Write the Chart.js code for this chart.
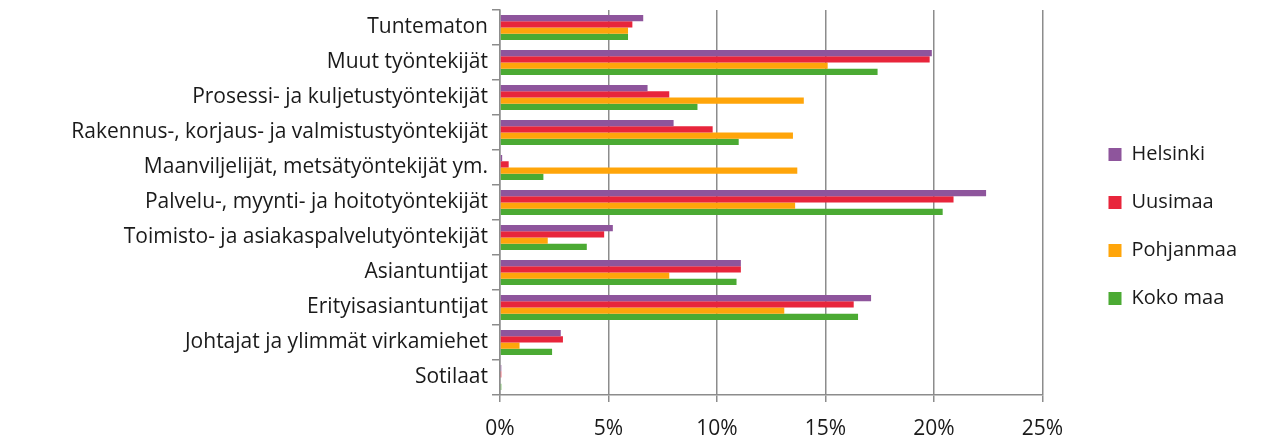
<!DOCTYPE html>
<html>
<head>
<meta charset="utf-8">
<script src="https://cdn.jsdelivr.net/npm/chart.js@4"></script>
<style>
  html, body { margin: 0; padding: 0; background: #fff; }
  #wrap { width: 1265px; height: 443px; }
</style>
</head>
<body>
<div id="wrap"><canvas id="myChart"></canvas></div>
<script>
var categories = ["Tuntematon", "Muut työntekijät", "Prosessi- ja kuljetustyöntekijät",
    "Rakennus-, korjaus- ja valmistustyöntekijät", "Maanviljelijät, metsätyöntekijät ym.",
    "Palvelu-, myynti- ja hoitotyöntekijät", "Toimisto- ja asiakaspalvelutyöntekijät",
    "Asiantuntijat", "Erityisasiantuntijat", "Johtajat ja ylimmät virkamiehet", "Sotilaat"];

var helsinki  = [6.6, 19.9, 6.8, 8.0, 0.1, 22.4, 5.2, 11.1, 17.1, 2.8, 0.06];
var uusimaa   = [6.1, 19.8, 7.8, 9.8, 0.4, 20.9, 4.8, 11.1, 16.3, 2.9, 0.06];
var pohjanmaa = [5.9, 15.1, 14.0, 13.5, 13.7, 13.6, 2.2, 7.8, 13.1, 0.9, 0.0];
var kokoMaa   = [5.9, 17.4, 9.1, 11.0, 2.0, 20.4, 4.0, 10.9, 16.5, 2.4, 0.06];

var xTicks = [0, 5, 10, 15, 20, 25];

var ctx = document.getElementById('myChart').getContext("2d");
var font = "'Open Sans', sans-serif";

function ds(label, values, color) {
    return {
        label: label,
        data: values,
        backgroundColor: color,
        borderWidth: 0,
        categoryPercentage: 0.72,
        barPercentage: 1.0
    };
}

var myChart = new Chart(ctx, {
    type: "bar",
    data: {
        labels: categories,
        datasets: [
            ds('Helsinki', helsinki, '#8E559C'),
            ds('Uusimaa', uusimaa, '#E8253B'),
            ds('Pohjanmaa', pohjanmaa, '#FFA50A'),
            ds('Koko maa', kokoMaa, '#4BAA33')
        ]
    },
    options: {
        indexAxis: 'y',
        responsive: true,
        maintainAspectRatio: false,
        animation: false,
        layout: { padding: { top: 10, left: 0, right: 18, bottom: 0 } },
        scales: {
            x: {
                min: 0,
                max: 25,
                afterBuildTicks: function (axis) {
                    axis.ticks = xTicks.map(function (v) { return { value: v }; });
                },
                afterFit: function (axis) { axis.height = 48; },
                grid: { color: '#8c8c8c', lineWidth: 1.5, tickLength: 7 },
                border: { color: '#8c8c8c', width: 1.5 },
                ticks: {
                    color: '#1a1a1a',
                    font: { family: font, size: 21 },
                    padding: 14,
                    callback: function (v) { return v + '%'; }
                }
            },
            y: {
                afterFit: function (axis) {
                    axis.width = 500;
                    axis.paddingTop = 0;
                    axis.paddingBottom = 0;
                },
                grid: { display: true, drawOnChartArea: false, offset: true, color: '#8c8c8c', lineWidth: 1.5, tickLength: 8 },
                border: { color: '#8c8c8c', width: 1.5 },
                ticks: {
                    color: '#1a1a1a',
                    font: { family: font, size: 21 },
                    padding: 4
                }
            },
            gap: {
                type: 'linear',
                position: 'right',
                display: true,
                afterFit: function (axis) {
                    axis.width = 38;
                    axis.paddingTop = 0;
                    axis.paddingBottom = 0;
                },
                grid: { display: false },
                border: { display: false },
                ticks: { display: false }
            }
        },
        plugins: {
            legend: {
                position: 'right',
                labels: {
                    color: '#1a1a1a',
                    font: { family: font, size: 20 },
                    boxWidth: 13,
                    boxHeight: 13,
                    padding: 28
                }
            },
            tooltip: { enabled: false }
        }
    }
});
</script>
</body>
</html>
